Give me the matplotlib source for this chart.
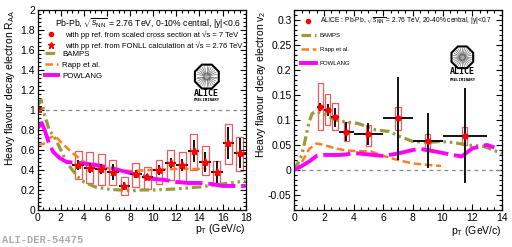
import numpy as np
import matplotlib
matplotlib.use('Agg')
import matplotlib.pyplot as plt
from matplotlib.ticker import MultipleLocator, FormatStrFormatter
from matplotlib.lines import Line2D
from matplotlib.patches import RegularPolygon

plt.rcParams['font.family'] = ['Liberation Sans', 'DejaVu Sans']
plt.rcParams['mathtext.fontset'] = 'custom'
plt.rcParams['mathtext.rm'] = 'Liberation Sans'
plt.rcParams['mathtext.it'] = 'Liberation Sans:italic'

# ---- R_AA, 0-10% central ----
pt_raa = [3.5, 4.5, 5.5, 6.5, 7.5, 8.5, 9.5, 10.5, 11.5, 12.5, 13.5, 14.5, 15.5, 16.5, 17.5]
raa = [0.45, 0.42, 0.405, 0.38, 0.235, 0.36, 0.325, 0.395, 0.465, 0.45, 0.59, 0.48, 0.375, 0.665, 0.565]
raa_stat = [0.05, 0.05, 0.05, 0.08, 0.04, 0.04, 0.03, 0.05, 0.05, 0.06, 0.11, 0.10, 0.11, 0.16, 0.15]
raa_sys_lo = [0.31, 0.27, 0.25, 0.25, 0.145, 0.23, 0.21, 0.26, 0.30, 0.29, 0.40, 0.35, 0.25, 0.46, 0.39]
raa_sys_hi = [0.59, 0.575, 0.555, 0.50, 0.33, 0.47, 0.43, 0.50, 0.60, 0.58, 0.76, 0.64, 0.49, 0.86, 0.73]

bamps_raa_pt = [0, 0.3, 0.6, 1, 1.5, 2, 2.5, 3, 3.5, 4, 5, 6, 7, 8, 9, 10, 12, 14, 16, 18]
bamps_raa = [1.05, 1.1, 0.95, 0.8, 0.72, 0.6, 0.48, 0.4, 0.33, 0.28, 0.23, 0.21, 0.2, 0.19, 0.2, 0.2, 0.21, 0.23, 0.26, 0.29]
rapp_raa_pt = [0, 0.5, 1, 1.5, 2, 3, 4, 5, 6, 7, 8, 10, 12, 14, 14.6]
rapp_raa = [0.65, 0.66, 0.72, 0.74, 0.68, 0.57, 0.48, 0.44, 0.42, 0.40, 0.39, 0.40, 0.41, 0.41, 0.41]
powlang_raa_pt = [0, 0.35, 0.6, 1, 1.35, 1.9, 2.5, 3.6, 5, 6, 7, 8, 9, 10, 11, 12, 13, 14, 15, 16, 18]
powlang_raa = [0.82, 0.87, 0.8, 0.66, 0.58, 0.52, 0.48, 0.47, 0.45, 0.43, 0.40, 0.37, 0.34, 0.31, 0.30, 0.28, 0.27, 0.27, 0.26, 0.24, 0.24]

# ---- v2, 20-40% central ----
pt_v2 = [1.75, 2.25, 2.75, 3.5, 5, 7, 9, 11.5]
pt_v2_err = [0.25, 0.25, 0.25, 0.5, 1, 1, 1, 1.5]
v2 = [0.125, 0.12, 0.105, 0.076, 0.071, 0.103, 0.058, 0.068]
v2_stat = [0.008, 0.012, 0.019, 0.019, 0.022, 0.083, 0.055, 0.095]
v2_sys_lo = [0.08, 0.09, 0.079, 0.058, 0.048, 0.08, 0.043, 0.05]
v2_sys_hi = [0.173, 0.152, 0.133, 0.095, 0.09, 0.125, 0.071, 0.085]

bamps_v2_pt = [0, 0.5, 0.75, 1, 1.2, 1.5, 1.9, 2.3, 2.8, 3.2, 4.3, 5.5, 6.4, 7.1, 8, 9, 9.9, 10.7, 11.7, 12.8, 14]
bamps_v2 = [0, 0.03, 0.063, 0.097, 0.113, 0.117, 0.113, 0.107, 0.1, 0.097, 0.093, 0.08, 0.077, 0.067, 0.057, 0.055, 0.057, 0.055, 0.05, 0.047, 0.033]
rapp_v2_pt = [0, 0.4, 1, 1.5, 2, 2.8, 3.5, 4, 5.2, 5.8, 6.6, 7.4, 8, 9, 9.9]
rapp_v2 = [0, 0.01, 0.042, 0.053, 0.05, 0.043, 0.039, 0.038, 0.037, 0.03, 0.023, 0.017, 0.013, 0.01, 0.008]
powlang_v2_pt = [0, 0.5, 1, 1.5, 2, 3, 3.5, 4, 5, 6, 7, 8, 8.5, 9.5, 10.7, 11.3, 12, 13, 13.5]
powlang_v2 = [0, 0.008, 0.017, 0.028, 0.03, 0.03, 0.031, 0.034, 0.031, 0.028, 0.033, 0.04, 0.042, 0.037, 0.03, 0.027, 0.043, 0.05, 0.045]

c_red = '#ff0000'
c_box = '#f05a5a'
c_bamps = '#9c9a3a'
c_rapp = '#ff7f1e'
c_powlang = '#ff00ff'
ls_bamps = (0, (3, 1.2, 0.8, 1.2, 0.8, 1.2))
ls_rapp = (0, (3, 1.5))
ls_powlang = (0, (7, 1.5))


def style_axes(ax, xmaj, xmin, ymaj, ymin):
	ax.xaxis.set_major_locator(MultipleLocator(xmaj))
	ax.xaxis.set_minor_locator(MultipleLocator(xmin))
	ax.yaxis.set_major_locator(MultipleLocator(ymaj))
	ax.yaxis.set_minor_locator(MultipleLocator(ymin))
	ax.yaxis.set_major_formatter(FormatStrFormatter('%g'))
	ax.tick_params(which='both', direction='in', top=True, right=True, labelsize=7.5, pad=2, width=0.8)
	ax.tick_params(which='major', length=4.5)
	ax.tick_params(which='minor', length=2.2)
	for s in ax.spines.values():
		s.set_linewidth(0.9)


def draw_logo(fig, x, y, w, h):
	#ALICE octagon logo (x, y, w, h in figure fraction)
	lax = fig.add_axes([x, y, w, h])
	lax.set_xlim(-1, 1)
	lax.set_ylim(-1, 1)
	lax.set_aspect('equal')
	lax.axis('off')
	lax.add_patch(RegularPolygon((0, 0), 8, radius=0.95, orientation=np.pi / 8, fill=False, lw=1.5, ec='k'))
	for a in np.linspace(0, 2 * np.pi, 28, endpoint=False):
		lax.plot([0.2 * np.cos(a), 0.75 * np.cos(a)], [0.2 * np.sin(a), 0.75 * np.sin(a)], color='#555555', lw=0.4)
	lax.add_patch(plt.Circle((0, 0), 0.25, color='#aaaaaa'))


fig = plt.figure(figsize=(5.12, 2.47), dpi=100)
ax1 = fig.add_axes([0.0736, 0.150, 0.4062, 0.8095])
ax2 = fig.add_axes([0.575, 0.150, 0.405, 0.8095])

# ----- left: R_AA -----
ax1.axhline(1, color='#888888', lw=0.9, ls=(0, (3, 3)))
ax1.bar([0.18], [0.07], bottom=[0.97], width=0.36, color=c_red, lw=0)
ax1.plot(bamps_raa_pt, bamps_raa, color=c_bamps, lw=2.3, ls=ls_bamps)
ax1.plot(rapp_raa_pt, rapp_raa, color=c_rapp, lw=1.8, ls=ls_rapp)
ax1.plot(powlang_raa_pt, powlang_raa, color=c_powlang, lw=2.8, ls=ls_powlang)

sys_lo = np.array(raa_sys_lo)
sys_hi = np.array(raa_sys_hi)
ax1.bar(pt_raa, sys_hi - sys_lo, bottom=sys_lo, width=0.6, fill=False, edgecolor=c_box, lw=0.9)
ax1.errorbar(pt_raa, raa, xerr=0.5, yerr=raa_stat, fmt='none', ecolor='k', elinewidth=1.3, capsize=0)
ax1.plot(pt_raa, raa, ls='none', marker='*', ms=6, color=c_red, mec=c_red)

ax1.set_xlim(0, 18)
ax1.set_ylim(0, 2)
style_axes(ax1, 2, 0.5, 0.2, 0.04)

ax1.set_ylabel(r'Heavy flavour decay electron R$_{\rm AA}$', fontsize=7.5, loc='top')
ax1.yaxis.set_label_coords(-0.1, 1.0)
ax1.set_xlabel(r'p$_{\rm T}$ (GeV/c)', fontsize=7.5, loc='right', labelpad=0)
ax1.xaxis.set_label_coords(1.0, -0.06)

ax1.text(0.977, 0.932, r'Pb-Pb, $\sqrt{s_{\rm NN}}$ = 2.76 TeV, 0-10% central, |y|<0.6', transform=ax1.transAxes, ha='right', va='center', fontsize=6.2)

data_handles = [Line2D([], [], ls='none', marker='o', ms=3, color=c_red),
	Line2D([], [], ls='none', marker='*', ms=4.5, color=c_red)]
data_labels = ['with pp ref. from scaled cross section at √s = 7 TeV',
	'with pp ref. from FONLL calculation at √s = 2.76 TeV']
leg1 = ax1.legend(data_handles, data_labels, loc='upper left', bbox_to_anchor=(0.027, 0.898), fontsize=5.5,
	frameon=False, borderpad=0, borderaxespad=0, handlelength=1.9, handletextpad=0.92, labelspacing=0.3)
ax1.add_artist(leg1)

model_handles = [Line2D([], [], color=c_bamps, lw=2.3, ls=ls_bamps),
	Line2D([], [], color=c_rapp, lw=1.8, ls=ls_rapp),
	Line2D([], [], color=c_powlang, lw=2.8)]
ax1.legend(model_handles, ['BAMPS', 'Rapp et al.', 'POWLANG'], loc='upper left', bbox_to_anchor=(0.035, 0.80),
	fontsize=5.7, frameon=False, borderpad=0, borderaxespad=0, handlelength=1.65, handletextpad=0.5, labelspacing=0.48)

# ----- right: v2 -----
ax2.axhline(0, color='#888888', lw=0.9, ls=(0, (3, 3)))
ax2.plot(bamps_v2_pt, bamps_v2, color=c_bamps, lw=2.3, ls=ls_bamps)
ax2.plot(rapp_v2_pt, rapp_v2, color=c_rapp, lw=1.8, ls=ls_rapp)
ax2.plot(powlang_v2_pt, powlang_v2, color=c_powlang, lw=2.8, ls=ls_powlang)

v_lo = np.array(v2_sys_lo)
v_hi = np.array(v2_sys_hi)
ax2.bar(pt_v2, v_hi - v_lo, bottom=v_lo, width=0.36, fill=False, edgecolor=c_box, lw=0.9)
ax2.errorbar(pt_v2, v2, xerr=pt_v2_err, yerr=v2_stat, fmt='none', ecolor='k', elinewidth=1.3, capsize=0)
ax2.plot(pt_v2, v2, ls='none', marker='o', ms=3.5, color=c_red, mec=c_red)

ax2.set_xlim(0, 14)
ax2.set_ylim(-0.08, 0.32)
style_axes(ax2, 2, 0.5, 0.05, 0.01)

ax2.set_ylabel(r'Heavy flavour decay electron v$_{\rm 2}$', fontsize=7.5, loc='top')
ax2.yaxis.set_label_coords(-0.125, 1.0)
ax2.set_xlabel(r'p$_{\rm T}$ (GeV/c)', fontsize=7.5, loc='right', labelpad=0)
ax2.xaxis.set_label_coords(1.0, -0.07)

leg3 = ax2.legend([Line2D([], [], ls='none', marker='o', ms=3, color=c_red)],
	[r'ALICE : Pb-Pb, $\sqrt{s_{\rm NN}}$ = 2.76 TeV, 20-40% central, |y|<0.7'],
	loc='upper left', bbox_to_anchor=(0.041, 0.97), fontsize=4.8, frameon=False, borderpad=0,
	borderaxespad=0, handlelength=1.6, handletextpad=1.0)
ax2.add_artist(leg3)
ax2.legend(model_handles, ['BAMPS', 'Rapp et al.', 'POWLANG'], loc='upper left', bbox_to_anchor=(0.032, 0.885),
	fontsize=4.3, frameon=False, borderpad=0, borderaxespad=0, handlelength=2.5, handletextpad=0.67, labelspacing=1.43)

# logos
draw_logo(fig, 0.376, 0.635, 0.056, 0.11)
fig.text(0.404, 0.623, 'ALICE', fontsize=6, fontweight='bold', ha='center', va='center', family='DejaVu Sans Mono')
fig.text(0.404, 0.595, 'PRELIMINARY', fontsize=2.8, fontweight='bold', ha='center', va='center', family='DejaVu Sans Mono')
draw_logo(fig, 0.874, 0.718, 0.058, 0.1)
fig.text(0.903, 0.709, 'ALICE', fontsize=6, fontweight='bold', ha='center', va='center', family='DejaVu Sans Mono')
fig.text(0.903, 0.677, 'PRELIMINARY', fontsize=2.8, fontweight='bold', ha='center', va='center', family='DejaVu Sans Mono')

fig.text(0.004, 0.027, 'ALI-DER-54475', fontsize=7.5, color='#aaaaaa', family='Liberation Mono', fontweight='bold', va='center')

fig.savefig('out.png', dpi=100)
